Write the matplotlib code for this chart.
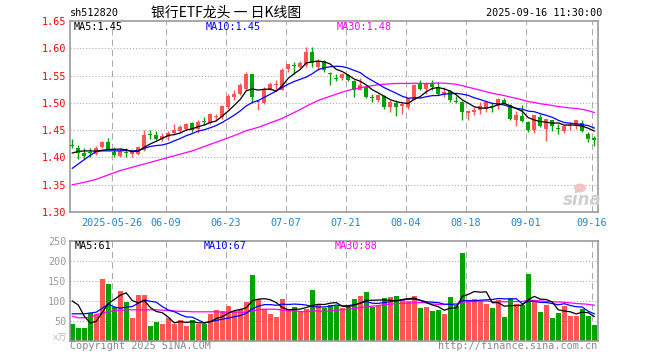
import matplotlib
matplotlib.use('Agg')
import matplotlib.pyplot as plt
from matplotlib.patches import Ellipse
import numpy as np
import pandas as pd

plt.rcParams['font.family'] = ['DejaVu Sans Mono', 'Noto Sans CJK SC']

# ---------------- data ----------------
tick_index = [7, 16, 26, 36, 46, 56, 66, 76, 87]
tick_labels = ['2025-05-26', '06-09', '06-23', '07-07', '07-21', '08-04', '08-18', '09-01', '09-16']

opens = [1.4215, 1.4165, 1.4073, 1.4098, 1.406, 1.4183, 1.4275, 1.4104, 1.4024, 1.4098,
         1.406, 1.406, 1.4134, 1.4428, 1.442, 1.4335, 1.4378, 1.4451, 1.4488, 1.453,
         1.4622, 1.453, 1.466, 1.4634, 1.4744, 1.4744, 1.4927, 1.510, 1.5159, 1.5262,
         1.5525, 1.501, 1.500, 1.5244, 1.5335, 1.5244, 1.5628, 1.5678, 1.566, 1.569,
         1.5933, 1.5659, 1.5768, 1.5533, 1.5453, 1.5464, 1.5506, 1.5397, 1.5244, 1.5293,
         1.5106, 1.5049, 1.512, 1.4915, 1.500, 1.495, 1.4915, 1.506, 1.5366, 1.5262,
         1.5354, 1.5293, 1.514, 1.522, 1.5026, 1.5018, 1.4805, 1.4835, 1.4866, 1.4896,
         1.4935, 1.4939, 1.5061, 1.4957, 1.4695, 1.4756, 1.4652, 1.450, 1.4744, 1.453,
         1.4695, 1.4538, 1.4488, 1.4585, 1.4573, 1.4622, 1.4427, 1.436]
highs = [1.4335, 1.4226, 1.4165, 1.4165, 1.4207, 1.430, 1.436, 1.4183, 1.4165, 1.4165,
         1.4146, 1.4207, 1.450, 1.450, 1.448, 1.444, 1.4488, 1.462, 1.459, 1.463,
         1.4652, 1.4683, 1.4732, 1.4805, 1.479, 1.4957, 1.517, 1.524, 1.5366, 1.5567,
         1.5537, 1.504, 1.5293, 1.5384, 1.5415, 1.563, 1.571, 1.575, 1.5768, 1.6024,
         1.6024, 1.581, 1.579, 1.5567, 1.5537, 1.555, 1.5537, 1.5415, 1.5464, 1.5305,
         1.517, 1.517, 1.514, 1.506, 1.5049, 1.500, 1.5098, 1.534, 1.5415, 1.5384,
         1.5427, 1.5384, 1.5293, 1.5244, 1.512, 1.503, 1.4866, 1.4927, 1.5018, 1.503,
         1.5018, 1.5098, 1.5098, 1.4988, 1.4854, 1.4957, 1.467, 1.4774, 1.4793, 1.4713,
         1.4695, 1.462, 1.4591, 1.4652, 1.4695, 1.4695, 1.447, 1.439]
lows = [1.4165, 1.398, 1.398, 1.400, 1.404, 1.4165, 1.4134, 1.400, 1.4012, 1.400,
        1.4012, 1.404, 1.4116, 1.4335, 1.4317, 1.430, 1.4317, 1.4408, 1.447, 1.451,
        1.447, 1.444, 1.459, 1.461, 1.4683, 1.4713, 1.4896, 1.506, 1.514, 1.5244,
        1.500, 1.4866, 1.4988, 1.523, 1.5244, 1.523, 1.5567, 1.5537, 1.563, 1.5659,
        1.5659, 1.561, 1.557, 1.5335, 1.540, 1.5415, 1.540, 1.511, 1.523, 1.508,
        1.5018, 1.5018, 1.4896, 1.4835, 1.4768, 1.479, 1.4896, 1.5049, 1.5232, 1.517,
        1.5244, 1.514, 1.511, 1.5012, 1.500, 1.468, 1.4695, 1.4774, 1.4793, 1.4835,
        1.4835, 1.4896, 1.4976, 1.4695, 1.4573, 1.4652, 1.447, 1.445, 1.4549, 1.4305,
        1.4488, 1.4427, 1.4451, 1.450, 1.453, 1.447, 1.4287, 1.4207]
closes = [1.4207, 1.4085, 1.403, 1.409, 1.4165, 1.4287, 1.4153, 1.4043, 1.4122, 1.409,
          1.4122, 1.4183, 1.442, 1.442, 1.4335, 1.439, 1.4451, 1.450, 1.456, 1.461,
          1.450, 1.4652, 1.4652, 1.4787, 1.4756, 1.494, 1.5122, 1.517, 1.5335, 1.5537,
          1.511, 1.502, 1.5244, 1.5354, 1.5342, 1.561, 1.5707, 1.567, 1.573, 1.5933,
          1.573, 1.5768, 1.560, 1.5525, 1.5445, 1.5537, 1.5427, 1.5244, 1.5323, 1.511,
          1.5098, 1.514, 1.4927, 1.5018, 1.4927, 1.4988, 1.508, 1.5323, 1.5262, 1.5366,
          1.5293, 1.5159, 1.520, 1.506, 1.5018, 1.4835, 1.4854, 1.4878, 1.4939, 1.5018,
          1.4927, 1.5079, 1.4988, 1.4713, 1.4774, 1.467, 1.450, 1.4774, 1.4573, 1.4713,
          1.4573, 1.453, 1.4573, 1.4591, 1.4683, 1.4488, 1.4335, 1.4323]
volumes = [43, 32, 33, 70, 68, 154, 142, 85, 124, 97,
           57, 114, 114, 37, 47, 42, 58, 43, 52, 37,
           52, 43, 42, 67, 77, 74, 87, 75, 81, 97,
           164, 106, 81, 68, 60, 104, 77, 85, 73, 80,
           128, 93, 82, 90, 87, 83, 85, 106, 112, 122,
           84, 88, 107, 109, 112, 103, 99, 112, 82, 84,
           74, 77, 67, 109, 87, 219, 100, 104, 100, 92,
           82, 102, 59, 107, 93, 89, 167, 102, 72, 89,
           57, 70, 87, 62, 62, 80, 62, 40]

ma5_head = [1.408, 1.411, 1.412, 1.412]
ma10_head = [1.380, 1.388, 1.396, 1.404, 1.411, 1.412, 1.412, 1.412, 1.412]
ma30_head = [1.350, 1.352, 1.3545, 1.357, 1.360, 1.364, 1.368, 1.372, 1.376, 1.379,
             1.382, 1.385, 1.388, 1.391, 1.394, 1.397, 1.400, 1.403, 1.406, 1.409,
             1.412, 1.416, 1.420, 1.424, 1.428, 1.432, 1.436, 1.440, 1.4445]
vma5_head = [100, 90, 62, 45]
vma10_head = [68, 68, 68, 70, 72, 82, 92, 85, 82]
vma30_head = [62, 58, 58, 59, 66, 70, 73, 76, 77, 78, 78, 78, 78, 78, 78, 77, 76, 75,
              74, 74, 73, 73, 73, 73, 73, 72, 72, 72, 72]

# ---------------- figure ----------------
W, H = 660, 360
fig = plt.figure(figsize=(W / 100, H / 100), dpi=100)
fig.patch.set_facecolor('white')


def box(l, t, r, b):
    return [l / W, 1 - b / H, (r - l) / W, (b - t) / H]


ax = fig.add_axes(box(70, 21, 598, 212))
axv = fig.add_axes(box(70, 241, 598, 341))

o = np.array(opens)
h = np.array(highs)
l = np.array(lows)
c = np.array(closes)
v = np.array(volumes, dtype=float)
x = np.arange(len(c))

RED = '#ff5555'
GREEN = '#00a300'
colors = np.where(c >= o, RED, GREEN)

GRID = '#aaaaaa'
for a in (ax, axv):
    a.set_xlim(-0.38, 87.62)
    for t in tick_index:
        a.axvline(t - 0.35, color=GRID, lw=0.75, ls=(0, (6, 4)), zorder=0)
    for s in a.spines.values():
        s.set_color('#999999')
        s.set_linewidth(1.2)

ax.set_ylim(1.30, 1.65)
for yv in [1.35, 1.40, 1.45, 1.50, 1.55, 1.60]:
    ax.axhline(yv, color=GRID, lw=0.75, ls=(0, (1, 2)), zorder=0)
axv.set_ylim(0, 250)
for yv in [50, 100, 150, 200]:
    axv.axhline(yv, color=GRID, lw=0.75, ls=(0, (1, 2)), zorder=0)

# candles
ax.vlines(x, l, h, colors=colors, lw=1.0, zorder=2)
body = np.maximum(np.abs(c - o), 0.0016)
ax.bar(x, body, bottom=np.minimum(o, c), width=0.7, color=colors, linewidth=0, zorder=3)

# price MAs
cs = pd.Series(c)
ma5 = cs.rolling(5).mean().to_numpy(); ma5[:4] = ma5_head
ma10 = cs.rolling(10).mean().to_numpy(); ma10[:9] = ma10_head
ma30 = cs.rolling(30).mean().to_numpy(); ma30[:29] = ma30_head
ax.plot(x, ma30, color='#ff00ff', lw=0.9, zorder=4)
ax.plot(x, ma10, color='#0000ff', lw=0.9, zorder=4)
ax.plot(x, ma5, color='#000000', lw=0.9, zorder=5)

# volume
axv.bar(x, v, width=0.8, color=colors, linewidth=0, zorder=2)
vs = pd.Series(v)
vma5 = vs.rolling(5).mean().to_numpy(); vma5[:4] = vma5_head
vma10 = vs.rolling(10).mean().to_numpy(); vma10[:9] = vma10_head
vma30 = vs.rolling(30).mean().to_numpy(); vma30[:29] = vma30_head
axv.plot(x, vma30, color='#ff00ff', lw=0.9, zorder=4)
axv.plot(x, vma10, color='#0000ff', lw=0.9, zorder=4)
axv.plot(x, vma5, color='#000000', lw=0.9, zorder=5)

FS = 7.3
# ticks
ax.set_yticks([1.30, 1.35, 1.40, 1.45, 1.50, 1.55, 1.60, 1.65])
ax.set_yticklabels(['%.2f' % t for t in [1.30, 1.35, 1.40, 1.45, 1.50, 1.55, 1.60, 1.65]])
ax.tick_params(axis='y', length=0, pad=2.5, labelsize=FS, labelcolor='#ff0000')
ax.set_xticks([t - 0.35 for t in tick_index])
ax.set_xticklabels(tick_labels)
ax.tick_params(axis='x', length=0, pad=4, labelsize=FS, labelcolor='#1a84d4')

axv.set_yticks([50, 100, 150, 200, 250])
axv.set_yticklabels(['50', '100', '150', '200', '250'])
axv.tick_params(axis='y', length=0, pad=2.5, labelsize=FS, labelcolor='#999999')
axv.set_xticks([])


def ftext(px, py, s, **kw):
    fig.text(px / W, 1 - py / H, s, va='center', fontsize=kw.pop('fontsize', FS), **kw)


# header
ftext(70, 13, 'sh512820', color='black')
ftext(226, 13, '银行ETF龙头 一 日K线图', ha='center', fontsize=10,
      family=['Noto Sans CJK SC', 'DejaVu Sans'], color='black')
ftext(602, 13, '2025-09-16 11:30:00', ha='right', color='black')

# legends inside panels
ftext(74, 27, 'MA5:1.45', color='black')
ftext(206, 27, 'MA10:1.45', color='#0000ff')
ftext(337, 27, 'MA30:1.48', color='#ff00ff')
ftext(75, 246, 'MA5:61', color='black')
ftext(204, 246, 'MA10:67', color='#0000ff')
ftext(335, 246, 'MA30:88', color='#ff00ff')

# footer
ftext(67, 338, 'x万', ha='right', color='#bbbbbb', fontsize=6.5,
      family=['DejaVu Sans Mono', 'Noto Sans CJK SC'])
ftext(70, 346, 'Copyright 2025 SINA.COM', color='#888888')
ftext(597, 346, 'http://finance.sina.com.cn', ha='right', color='#888888')

# watermark (logo eye drawn as a patch, word as text)
logo = Ellipse((580 / W, 1 - 188 / H), 12 / W, 9 / H, transform=fig.transFigure,
               facecolor='#f3c4c4', edgecolor='none', zorder=1)
fig.patches.append(logo)
ftext(582, 200, 'sina', ha='center', color='#cfcfcf', fontsize=12,
      family=['DejaVu Sans'], fontstyle='italic', fontweight='bold')

fig.savefig('out.png', dpi=100, facecolor='white')
